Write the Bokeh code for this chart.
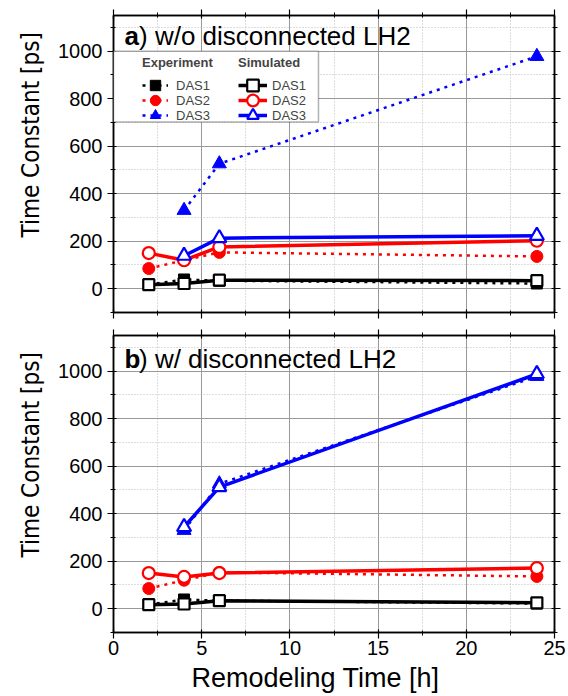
from bokeh.plotting import figure
from bokeh.models import (Range1d, SingleIntervalTicker, LinearAxis, Legend, LegendItem,
                          BoxAnnotation, Label, Title, CustomJSTickFormatter)
from bokeh.layouts import column
from bokeh.embed import file_html
from bokeh.resources import INLINE

# ---------------- data ----------------
x_das12 = [2, 4, 6, 24]
x_das3 = [4, 6, 24]

exp_das1 = [17, 39, 34, 22]
exp_das2 = [85, 120, 153, 136]
exp_das3 = [330, 526, 978]

sim_a_das1 = [17, 22, 36, 34]
sim_a_das2 = [150, 120, 176, 202]
sim_a_das3 = [139, 213, 223]

sim_b_das1 = [17, 20, 34, 25]
sim_b_das2 = [150, 134, 150, 171]
sim_b_das3 = [344, 512, 988]

series_names = ["DAS1", "DAS2", "DAS3"]
colors = ["black", "#ff0000", "#0000ff"]
markers = ["square", "circle", "triangle"]
marker_sizes = [11, 12, 14]

panel_letters = ["a", "b"]
panel_titles = [") w/o disconnected LH2", ") w/ disconnected LH2"]
x_label = "Remodeling Time [h]"
y_label = "Time Constant [ps]"
legend_titles = ["Experiment", "Simulated"]

FONT = "Liberation Sans"
NARROW = "DejaVu Sans Condensed"


def blank_axis(ax):
    ax.formatter = CustomJSTickFormatter(code="return ''")
    ax.major_label_text_font_size = "1px"
    ax.major_label_standoff = 0


def style_axis(ax, ticker):
    ax.ticker = ticker
    ax.axis_line_color = "black"
    ax.axis_line_width = 1.5
    ax.major_tick_line_color = "black"
    ax.major_tick_line_width = 1.2
    ax.minor_tick_line_color = "black"
    ax.minor_tick_line_width = 1.0
    ax.major_tick_in = 3
    ax.major_tick_out = 6
    ax.minor_tick_in = 2
    ax.minor_tick_out = 3
    ax.major_label_text_font = FONT
    ax.major_label_text_font_size = "20px"
    ax.major_label_text_color = "black"


def make_panel(idx, sims, height, bottom_border, show_xlabels, show_legend, title_y):
    p = figure(width=568, height=height, output_backend="svg", toolbar_location=None,
               x_range=Range1d(0, 25), y_range=Range1d(-100, 1150),
               min_border_left=113, min_border_right=14, min_border_top=15,
               min_border_bottom=bottom_border)
    p.outline_line_color = "black"
    p.outline_line_width = 1.5
    p.background_fill_color = "white"
    p.border_fill_color = "white"

    xt = SingleIntervalTicker(interval=5, num_minor_ticks=2)
    yt = SingleIntervalTicker(interval=200, num_minor_ticks=2)

    style_axis(p.xaxis[0], xt)
    style_axis(p.yaxis[0], yt)
    p.xaxis.major_label_standoff = 2
    p.yaxis.major_label_standoff = 5
    if not show_xlabels:
        blank_axis(p.xaxis[0])

    # axis titles as side-panel titles (allows an offset along the axis)
    p.add_layout(Title(text=y_label, align="left", offset=75, standoff=22,
                       text_font=NARROW, text_font_size="24px",
                       text_font_style="normal", text_color="black"), "left")
    if show_xlabels:
        p.add_layout(Title(text=x_label, align="left", offset=78, standoff=6,
                           text_font=FONT, text_font_size="27px",
                           text_font_style="normal", text_color="black"), "below")

    right = LinearAxis()
    style_axis(right, yt)
    blank_axis(right)
    p.add_layout(right, "right")
    top = LinearAxis()
    style_axis(top, xt)
    blank_axis(top)
    p.add_layout(top, "above")

    for g, t in ((p.xgrid, xt), (p.ygrid, yt)):
        g.ticker = t
        g.grid_line_color = "#999999"
        g.grid_line_width = 1
        g.minor_grid_line_color = "#bdbdbd"
        g.minor_grid_line_width = 1
        g.minor_grid_line_dash = "1 2"

    exps = [exp_das1, exp_das2, exp_das3]
    xs = [x_das12, x_das12, x_das3]
    exp_items, sim_items = [], []
    for i in range(3):
        l = p.line(xs[i], exps[i], line_color=colors[i], line_width=2.5, line_dash="3 5")
        s = p.scatter(xs[i], exps[i], marker=markers[i], size=marker_sizes[i],
                      fill_color=colors[i], line_color=colors[i], line_width=1)
        exp_items.append(LegendItem(label=series_names[i], renderers=[l, s]))
    for i in range(3):
        l = p.line(xs[i], sims[i], line_color=colors[i], line_width=3.5)
        s = p.scatter(xs[i], sims[i], marker=markers[i], size=marker_sizes[i],
                      fill_color="white", line_color=colors[i], line_width=2.2)
        sim_items.append(LegendItem(label=series_names[i], renderers=[l, s]))

    p.add_layout(Label(x=0, y=title_y, x_offset=11, text=panel_letters[idx],
                       text_font=FONT, text_font_size="26px", text_font_style="bold",
                       text_baseline="middle", text_color="black"))
    p.add_layout(Label(x=0, y=title_y, x_offset=25.5, text=panel_titles[idx],
                       text_font=FONT, text_font_size="26px",
                       text_baseline="middle", text_color="black"))

    if show_legend:
        p.add_layout(BoxAnnotation(left=0, right=11.62, bottom=702, top=1000,
                                   fill_color="white", fill_alpha=1.0,
                                   line_color="black", line_width=1.5))
        # one legend per row so that rows can sit closer than the glyph box
        row_vy = [212, 197, 182]
        for items, title, vx, gw, ls in ((exp_items, legend_titles[0], 29, 26, 8),
                                         (sim_items, legend_titles[1], 125, 29, 5)):
            for r, item in enumerate(items):
                kw = {}
                if r == 0:
                    kw = dict(title=title, title_text_font=FONT,
                              title_text_font_size="13px",
                              title_text_font_style="bold", title_standoff=-9)
                leg = Legend(items=[item], location=(vx, row_vy[r]),
                             padding=0, margin=0, spacing=0,
                             glyph_height=30, glyph_width=gw, label_height=15,
                             label_standoff=ls, label_text_font=FONT,
                             label_text_font_size="13px",
                             background_fill_alpha=0, border_line_alpha=0, **kw)
                p.add_layout(leg)
    return p


pa = make_panel(0, [sim_a_das1, sim_a_das2, sim_a_das3], 320, 8, False, True, 1065)
pb = make_panel(1, [sim_b_das1, sim_b_das2, sim_b_das3], 376, 64, True, False, 1052)

layout = column(pa, pb, spacing=0)
open("out.html", "w").write(file_html(layout, INLINE))
